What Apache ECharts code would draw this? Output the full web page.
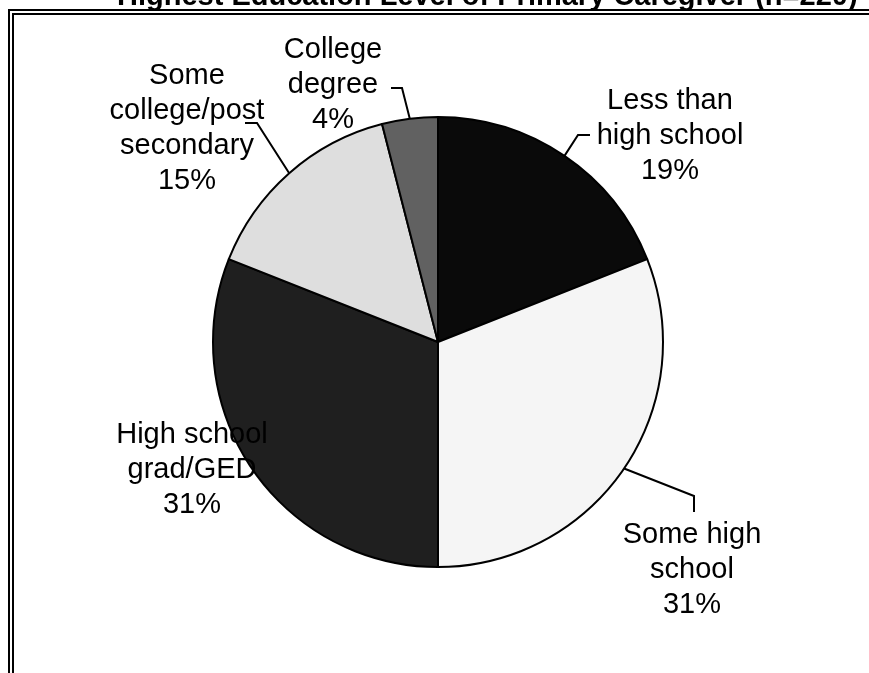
<!DOCTYPE html>
<html>
<head>
<meta charset="utf-8">
<script src="https://cdn.jsdelivr.net/npm/echarts@6/dist/echarts.min.js"></script>
<style>
  html, body { margin: 0; padding: 0; background: #fff; }
  #chart { width: 869px; height: 673px; }
</style>
</head>
<body>
<div id="chart"></div>
<script>
const levels = [
  'Less than\nhigh school',
  'Some high\nschool',
  'High school\ngrad/GED',
  'Some\ncollege/post\nsecondary',
  'College\ndegree',
]
const percents = [19, 31, 31, 15, 4]
const colors = ['#0a0a0a', '#f5f5f5', '#1f1f1f', '#dedede', '#616161']

// label placement (block centre) and leader elbows, per slice
const labelPos = [
  { x: 670, y: 136, line: [[578, 135], [590, 135]] },
  { x: 692, y: 570, line: [[694, 496], [694, 512]] },
  { x: 192, y: 470, line: null },
  { x: 187, y: 128, line: [[257, 123], [245, 123]] },
  { x: 333, y: 85, line: [[402, 88], [391, 88]] },
]

const chart = echarts.init(document.getElementById('chart'))

const option = {
  backgroundColor: '#fff',
  animation: false,
  title: {
    text: 'Highest Education Level of Primary Caregiver (n=220)',
    left: 117,
    top: -18,
    padding: 0,
    textStyle: {
      fontFamily: 'Liberation Sans, Arial, sans-serif',
      fontSize: 29,
      fontWeight: 'bold',
      color: '#000',
    },
  },
  graphic: [
    {
      type: 'rect',
      shape: { x: 9, y: 10, width: 900, height: 700 },
      style: { fill: null, stroke: '#000', lineWidth: 2 },
      silent: true,
    },
    {
      type: 'rect',
      shape: { x: 13, y: 14, width: 900, height: 700 },
      style: { fill: null, stroke: '#000', lineWidth: 2 },
      silent: true,
    },
  ],
  series: [
    {
      type: 'pie',
      center: [438, 342],
      radius: 225,
      startAngle: 90,
      clockwise: true,
      avoidLabelOverlap: false,
      itemStyle: {
        borderColor: '#000',
        borderWidth: 2,
      },
      label: {
        show: true,
        position: 'outside',
        formatter: '{b}\n{c}%',
        fontFamily: 'Liberation Sans, Arial, sans-serif',
        fontSize: 29,
        lineHeight: 35,
        color: '#000',
        align: 'center',
      },
      labelLine: {
        show: true,
        length: 10,
        length2: 10,
        lineStyle: { color: '#000', width: 2 },
      },
      labelLayout(params) {
        const p = labelPos[params.dataIndex]
        const r = { x: p.x, y: p.y, align: 'center', verticalAlign: 'middle' }
        if (p.line && params.labelLinePoints) {
          r.labelLinePoints = [params.labelLinePoints[0]].concat(p.line)
        }
        return r
      },
      emphasis: { disabled: true },
      data: levels.map((name, i) => ({
        name: name,
        value: percents[i],
        itemStyle: { color: colors[i] },
        labelLine: { show: labelPos[i].line !== null },
      })),
    },
  ],
}

chart.setOption(option)
</script>
</body>
</html>
